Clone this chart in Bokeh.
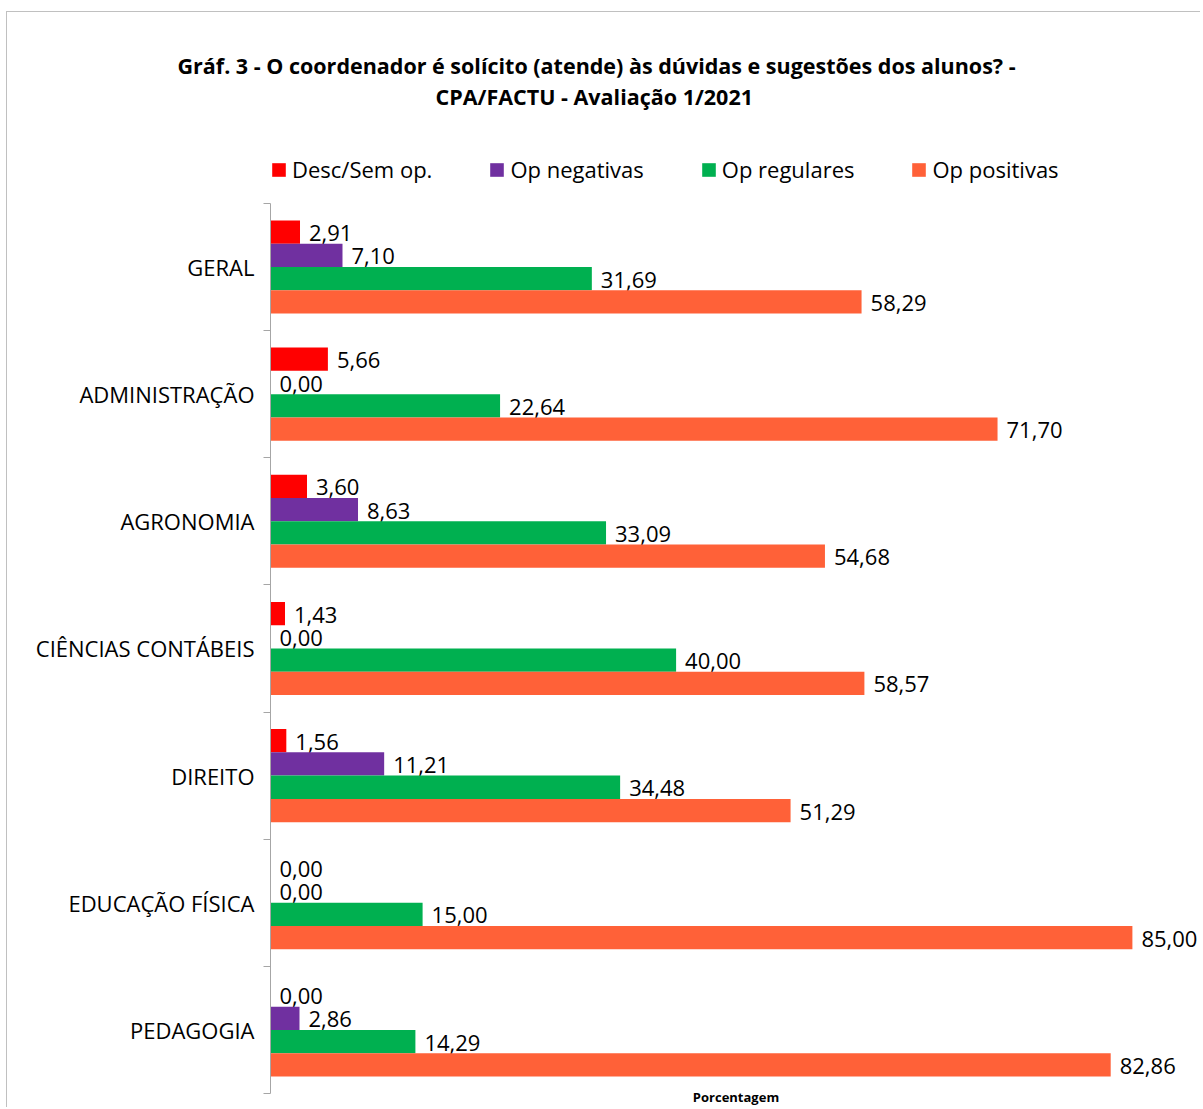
from bokeh.plotting import figure
from bokeh.models import (Range1d, FixedTicker, ColumnDataSource, Legend, LegendItem, Title)
from bokeh.core.properties import value
from bokeh.embed import file_html
from bokeh.resources import INLINE

categories = ["GERAL", "ADMINISTRAÇÃO", "AGRONOMIA", "CIÊNCIAS CONTÁBEIS",
              "DIREITO", "EDUCAÇÃO FÍSICA", "PEDAGOGIA"]
series_names = ["Desc/Sem op.", "Op negativas", "Op regulares", "Op positivas"]
desc_sem_op = [2.91, 5.66, 3.60, 1.43, 1.56, 0.00, 0.00]
op_negativas = [7.10, 0.00, 8.63, 0.00, 11.21, 0.00, 2.86]
op_regulares = [31.69, 22.64, 33.09, 40.00, 34.48, 15.00, 14.29]
op_positivas = [58.29, 71.70, 54.68, 58.57, 51.29, 85.00, 82.86]
series_values = [desc_sem_op, op_negativas, op_regulares, op_positivas]
colors = ["#FF0000", "#7030A0", "#00B050", "#FF6138"]

title_line1 = "Gráf. 3 - O coordenador  é solícito (atende) às dúvidas e sugestões dos alunos?  -"
title_line2 = "CPA/FACTU - Avaliação 1/2021"
x_title = "Porcentagem"

FONT = "Open Sans"
BAR_H = 0.183

W, H = 1194, 1096
FRAME_LEFT, FRAME_TOP = 263, 98
PX_PER_UNIT = 10.14
n = len(categories)

p = figure(width=W, height=H, output_backend="svg", toolbar_location=None,
           x_range=Range1d(0, (W - FRAME_LEFT) / PX_PER_UNIT),
           y_range=Range1d(n, -0.7306),
           min_border_left=FRAME_LEFT, min_border_top=FRAME_TOP, min_border_bottom=0,
           min_border_right=0)
p.styles = {"margin-left": "6px", "margin-top": "11px",
            "border-left": "1px solid #C0C0C0", "border-top": "1px solid #C0C0C0"}
p.outline_line_color = None
p.grid.visible = False

xax = p.xaxis[0]
xax.ticker = FixedTicker(ticks=[])
xax.axis_line_color = None
xax.major_tick_out = 0
xax.major_tick_in = 0
xax.minor_tick_out = 0
xax.axis_label = x_title
xax.axis_label_standoff = -6
xax.axis_label_text_font = FONT
xax.axis_label_text_font_size = "13px"
xax.axis_label_text_font_style = "bold"
xax.axis_label_text_color = "#000000"

yax = p.yaxis[0]
yax.bounds = (0, n)
yax.ticker = FixedTicker(ticks=[i + 0.5 for i in range(n)],
                         minor_ticks=list(range(n + 1)))
yax.major_label_overrides = {i + 0.5: c for i, c in enumerate(categories)}
yax.major_tick_in = 0
yax.major_tick_out = 0
yax.minor_tick_in = 0
yax.minor_tick_out = 7
yax.minor_tick_line_color = "#A6A6A6"
yax.axis_line_color = "#A6A6A6"
yax.major_label_text_font = FONT
yax.major_label_text_font_size = "22px"
yax.major_label_text_color = "#000000"
yax.major_label_standoff = 9

items = []
for k, (name, vals, col) in enumerate(zip(series_names, series_values, colors)):
    ys = [i + 0.5 + (k - 1.5) * BAR_H for i in range(n)]
    labels = [f"{v:.2f}".replace(".", ",") for v in vals]
    src = ColumnDataSource(dict(y=ys, right=vals, lab=labels))
    r = p.hbar(y="y", right="right", left=0, height=BAR_H, source=src,
               fill_color=col, line_color=None)
    p.text(x="right", y="y", text="lab", source=src, x_offset=9, y_offset=1,
           text_font=value(FONT), text_font_size="22px", text_color="#000000",
           text_align="left", text_baseline="middle")
    items.append(LegendItem(label=name, renderers=[r]))

legend = Legend(items=items, orientation="horizontal", location=(0, 909),
                glyph_width=17, glyph_height=17, label_standoff=5, spacing=56,
                label_text_font=FONT, label_text_font_size="22px",
                label_text_color="#000000", border_line_color=None,
                background_fill_alpha=0, padding=0, margin=0)
p.add_layout(legend)

# above panels stack outward from the frame in the order they are added
p.add_layout(Title(text=title_line2, align="left", offset=435 - 7 - FRAME_LEFT, standoff=0,
                   text_font=FONT, text_font_size="21.5px", text_font_style="bold",
                   text_color="#000000"), "above")
p.add_layout(Title(text=title_line1, align="left", offset=177 - 7 - FRAME_LEFT, standoff=0,
                   text_font=FONT, text_font_size="21.5px", text_font_style="bold",
                   text_color="#000000"), "above")

open("out.html", "w").write(file_html(p, INLINE))
